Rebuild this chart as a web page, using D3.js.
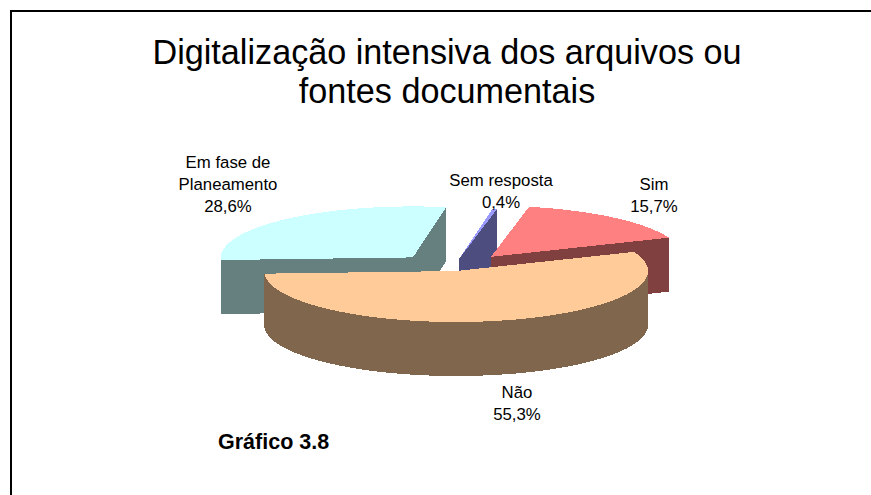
<!DOCTYPE html>
<html><head><meta charset="utf-8">
<script src="https://cdn.jsdelivr.net/npm/d3@7/dist/d3.min.js"></script>
<style>html,body{margin:0;padding:0;background:#fff}svg{display:block}text{font-family:"Liberation Sans",Arial,sans-serif;fill:#000}</style>
</head><body><script>
const categories = ["Sem resposta","Sim","Não","Em fase de Planeamento"];
const values = [0.4,15.7,55.3,28.6];
const valueLabels = ["0,4%","15,7%","55,3%","28,6%"];
const explode = [38,61,19,59];
const topColors = ["#9999FF","#FF8080","#FFCC99","#CCFFFF"];
const sideColors = ["#4D4D80","#804040","#80664D","#667F7F"];
const titleLines = ["Digitalização intensiva dos arquivos ou","fontes documentais"];

const W=871,H=495,cx=452,cy=267,rx=192,ry=51,depth=54,explodeTilt=0.217;
const svg=d3.select("body").append("svg").attr("width",W).attr("height",H);
svg.append("path").attr("d",`M11 495V11H871`).attr("fill","none").attr("stroke","#000").attr("stroke-width",2).attr("shape-rendering","crispEdges");

const rad=d=>d*Math.PI/180;
const pie=d3.pie().sort(null).startAngle(rad(10)).endAngle(rad(370));
const arcs=pie(values);
const line=d3.line();
const pt=(o,a)=>[o[0]+rx*Math.sin(a),o[1]-ry*Math.cos(a)];
const down=p=>[p[0],p[1]+depth];
const g=svg.append("g").attr("shape-rendering","crispEdges");
const order=[3,0,1,2];
order.forEach(i=>{
  const a=arcs[i],mid=(a.startAngle+a.endAngle)/2;
  const o=[cx+explode[i]*Math.sin(mid), cy-explode[i]*Math.cos(mid)*explodeTilt];
  const angs=d3.range(0,61).map(j=>a.startAngle+(a.endAngle-a.startAngle)*j/60);
  const rim=angs.map(t=>pt(o,t));
  const p0=rim[0],p1=rim[rim.length-1];
  [[o,p0],[o,p1]].forEach(([u,v])=>{
    g.append("path").attr("d",line([u,v,down(v),down(u)])+"Z").attr("fill",sideColors[i]);
  });
  const front=rim.filter((p,j)=>{const s=((angs[j]%(2*Math.PI))+2*Math.PI)%(2*Math.PI);return s>=Math.PI/2&&s<=1.5*Math.PI;});
  if(front.length>1){
    g.append("path").attr("d",line([...front,...front.slice().reverse().map(down)])+"Z").attr("fill",sideColors[i]);
  }
  g.append("path").attr("d",line([o,...rim])+"Z").attr("fill",topColors[i]);
});

const title=svg.append("g").attr("text-anchor","middle").attr("font-size",34.2);
titleLines.forEach((t,i)=>title.append("text").attr("x",447).attr("y",64+i*38.5).text(t));

const lab=(lines,x,y)=>{const t=svg.append("g").attr("text-anchor","middle").attr("font-size",16.8);
  lines.forEach((s,i)=>t.append("text").attr("x",x).attr("y",y+i*22).text(s));};
lab(["Em fase de","Planeamento",valueLabels[3]],228,168);
lab([categories[0],valueLabels[0]],501,186);
lab([categories[1],valueLabels[1]],654,190);
lab([categories[2],valueLabels[2]],517,398);
svg.append("text").attr("x",218).attr("y",449).attr("font-size",21.5).attr("font-weight","bold").text("Gráfico 3.8");
</script></body></html>
